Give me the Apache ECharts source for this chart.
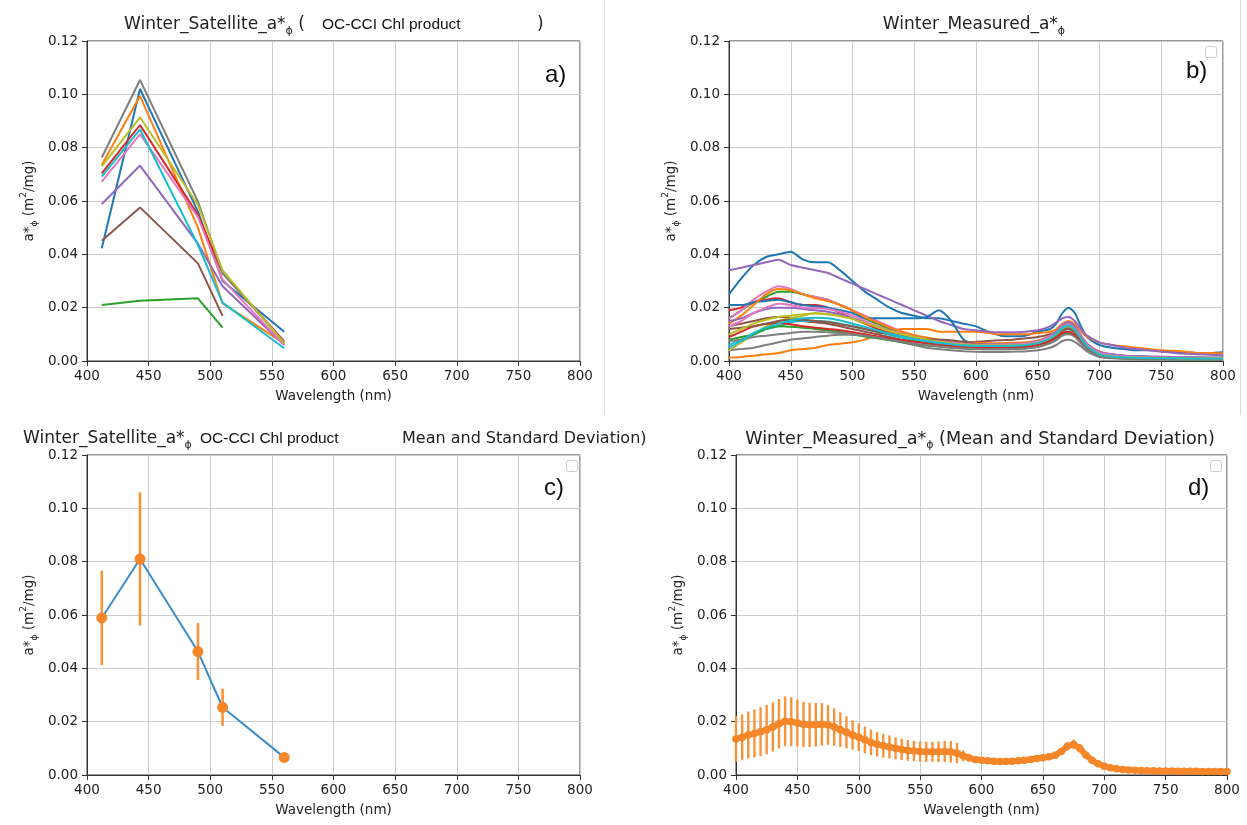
<!DOCTYPE html>
<html><head><meta charset="utf-8">
<script src="https://cdn.jsdelivr.net/npm/echarts@6/dist/echarts.min.js"></script>
<style>html,body{margin:0;padding:0;background:#fff;}#chart{width:1247px;height:825px;}</style>
</head><body><div id="chart"></div>
<script>
// ---------- Panel a: satellite a*phi spectra (OC-CCI bands) ----------
const satWavelengths = [412, 443, 490, 510, 560];
const satBlue   = [0.0423, 0.1020, 0.0560, 0.0300, 0.0110];
const satOrange = [0.0735, 0.0994, 0.0500, 0.0216, 0.0066];
const satGreen  = [0.0210, 0.0226, 0.0235, 0.0125, null];
const satRed    = [0.0704, 0.0885, 0.0548, 0.0330, 0.0073];
const satPurple = [0.0589, 0.0733, 0.0440, 0.0280, 0.0060];
const satBrown  = [0.0451, 0.0576, 0.0366, 0.0169, null];
const satPink   = [0.0673, 0.0851, 0.0540, 0.0305, 0.0060];
const satGray   = [0.0763, 0.1054, 0.0598, 0.0330, 0.0070];
const satOlive  = [0.0730, 0.0914, 0.0585, 0.0340, 0.0066];
const satCyan   = [0.0691, 0.0869, 0.0435, 0.0219, 0.0048];
const satSpectra = [satBlue, satOrange, satGreen, satRed, satPurple, satBrown, satPink, satGray, satOlive, satCyan];

// ---------- Panel b: measured a*phi spectra ----------
const measWavelengths = [400,410,420,430,440,450,460,470,480,490,500,510,520,530,540,550,560,570,580,590,600,610,620,630,640,650,660,665,670,675,680,685,690,700,710,720,730,740,750,760,770,780,790,800];
const meas01 = [.025,.031,.036,.039,.040,.041,.038,.037,.037,.034, .030,.026,.023,.020,.018,.017,.016,.016,.015,.014, .013,.011,.0095,.0093,.0095,.011,.012, .014,.018,.020,.018,.013,.009, .006,.005,.0045,.004,.004,.0037,.0035,.0033,.003,.003,.0033];
const meas02 = [.0012,.0015,.002,.0025,.003,.004,.0045,.005,.006,.0065, .007,.008,.010,.011,.012,.012,.012,.011,.011,.011, .011,.0105,.010,.010,.010,.0105,.011, .012,.014,.015,.014,.011,.009, .007,.006,.0055,.005,.0045,.004,.0038,.0035,.003,.003,.0028];
const meas03 = [.016,.019,.022,.024,.026,.026,.025,.024,.023,.021, .019,.016,.014,.012,.010,.009,.008,.007,.0065,.006, .0058,.0057,.0058,.006,.0062,.0068,.0085, .010,.0125,.0135,.012,.009,.006, .003,.0022,.0018,.0016,.0015,.0014,.0013,.0012,.0012,.0011,.0011];
const meas04 = [.019,.020,.022,.023,.0235,.022,.021,.021,.020,.018, .016,.014,.012,.0105,.009,.008,.0072,.0066,.006,.0058, .0056,.0055,.0056,.0058,.006,.0066,.0082, .0095,.0115,.0125,.011,.008,.0055, .003,.002,.0017,.0015,.0014,.0013,.0012,.0011,.0011,.001,.001];
const meas05 = [.034,.035,.036,.037,.038,.036,.035,.034,.033,.031, .029,.027,.025,.023,.021,.019,.017,.015,.0135,.012, .0115,.011,.0108,.0108,.011,.0115,.013, .0145,.016,.0165,.015,.012,.0095, .007,.006,.005,.0045,.004,.0035,.003,.0027,.0025,.0023,.0022];
const meas06 = [.013,.014,.015,.016,.0165,.016,.015,.0145,.014,.013, .012,.011,.010,.009,.008,.0075,.007,.0068,.0068,.007, .0072,.0075,.0078,.008,.0085,.009,.010, .011,.0125,.013,.012,.009,.006, .0035,.0025,.002,.0018,.0016,.0015,.0014,.0013,.0012,.0012,.0011];
const meas07 = [.016,.019,.023,.026,.028,.027,.025,.024,.023,.021, .019,.017,.015,.013,.011,.0095,.0085,.0078,.0072,.0068, .0065,.0064,.0064,.0066,.0068,.0075,.0095, .011,.0135,.0145,.013,.0095,.0065, .0035,.0025,.002,.0018,.0016,.0015,.0014,.0013,.0012,.0012,.0012];
const meas08 = [.004,.0045,.005,.006,.007,.008,.0085,.009,.0095,.0098, .0098,.0095,.009,.008,.007,.006,.005,.0045,.004,.0037, .0035,.0034,.0034,.0035,.0036,.004,.005, .006,.0075,.008,.0072,.0055,.0035, .0015,.001,.0008,.0007,.0006,.0006,.0005,.0005,.0005,.0005,.0005];
const meas09 = [.004,.007,.010,.013,.015,.016,.017,.018,.0175,.017, .016,.0145,.013,.0115,.010,.009,.008,.007,.0065,.006, .0057,.0055,.0055,.0056,.0058,.0064,.008, .0095,.012,.013,.0115,.0085,.0055, .0025,.0017,.0014,.0012,.0011,.001,.001,.0009,.0009,.0009,.0009];
const meas10 = [.006,.008,.010,.012,.013,.0145,.015,.015,.0148,.014, .013,.012,.011,.0098,.0088,.008,.0072,.0066,.006,.0056, .0054,.0053,.0053,.0054,.0056,.0062,.0078, .0092,.0112,.012,.0108,.008,.005, .0022,.0015,.0012,.0011,.001,.001,.0009,.0009,.0008,.0008,.0008];
const meas11 = [.021,.021,.022,.0225,.023,.022,.021,.0205,.020,.019, .018,.016,.016,.016,.016,.016,.0165,.019,.015,.008, .0065,.006,.006,.006,.0062,.007,.0088, .010,.012,.013,.0115,.0085,.0055, .0025,.0016,.0013,.0012,.0011,.001,.001,.001,.0009,.0009,.0009];
const meas12 = [.014,.017,.021,.025,.027,.0265,.025,.0235,.0225,.021, .019,.0165,.0145,.0125,.011,.0098,.0088,.008,.0075,.007, .0068,.0067,.0067,.0068,.007,.0076,.0092, .0108,.013,.014,.0125,.0092,.0062, .0032,.0022,.0018,.0016,.0015,.0014,.0013,.0012,.0012,.0011,.0011];
const meas13 = [.008,.009,.010,.012,.013,.0128,.0125,.012,.0115,.011, .010,.0092,.0085,.0078,.007,.0064,.0058,.0054,.005,.0047, .0045,.0044,.0044,.0045,.0047,.0053,.0068, .008,.0098,.0105,.0095,.007,.0045, .002,.0013,.001,.0009,.0008,.0008,.0007,.0007,.0007,.0007,.0007];
const meas14 = [.009,.011,.013,.014,.0142,.0138,.013,.0125,.012,.0115, .0108,.010,.0092,.0085,.0078,.0072,.0066,.006,.0056,.0052, .005,.0049,.005,.0051,.0053,.006,.0075, .0088,.0105,.011,.0098,.0072,.0047, .0022,.0015,.0012,.001,.0009,.0009,.0008,.0008,.0008,.0008,.0008];
const meas15 = [.015,.016,.018,.0195,.020,.020,.0195,.019,.0185,.0175, .016,.0145,.013,.0115,.010,.009,.008,.0074,.007,.0066, .0064,.0063,.0063,.0064,.0066,.0074,.0092, .011,.0135,.0145,.013,.0095,.0064, .0033,.0024,.002,.0018,.0017,.0016,.0015,.0014,.0014,.0013,.0013];
const meas16 = [.012,.0125,.013,.014,.015,.0155,.0155,.015,.0145,.0138, .013,.012,.011,.0102,.0095,.0088,.0082,.008,.0078,.0072, .0065,.006,.0058,.0058,.006,.0066,.0082, .0096,.0115,.012,.0108,.008,.0052, .0025,.0017,.0014,.0012,.0011,.0011,.001,.001,.001,.001,.001];
const meas17 = [.013,.015,.018,.020,.0215,.021,.020,.0198,.0195,.0185, .017,.015,.013,.0115,.0102,.009,.008,.0073,.0068,.0064, .0062,.0061,.0061,.0062,.0065,.0072,.009, .0105,.0128,.0138,.0122,.009,.006, .003,.0021,.0017,.0015,.0014,.0013,.0012,.0012,.0011,.0011,.0011];
const meas18 = [.0075,.008,.009,.0095,.010,.0105,.011,.011,.0108,.0105, .010,.0095,.0088,.008,.0072,.0065,.006,.0055,.005,.0047, .0045,.0044,.0044,.0045,.0047,.0052,.0066, .0078,.0095,.010,.009,.0066,.0042, .0018,.0012,.001,.0009,.0008,.0008,.0007,.0007,.0007,.0007,.0007];
const meas19 = [.010,.012,.014,.0155,.0165,.017,.0175,.0178,.0175,.0168, .0158,.0142,.0128,.0113,.010,.009,.008,.0072,.0066,.0062, .0059,.0058,.0058,.0059,.0061,.0068,.0085, .010,.0122,.013,.0116,.0085,.0055, .0026,.0018,.0015,.0013,.0012,.0011,.0011,.001,.001,.001,.001];
const meas20 = [.005,.0075,.0105,.0125,.014,.0152,.016,.0162,.016,.0152, .014,.0128,.0115,.0102,.0092,.0083,.0075,.0068,.0063,.0059, .0057,.0056,.0056,.0057,.006,.0067,.0085, .0102,.0125,.0133,.0118,.0086,.0055, .0025,.0017,.0014,.0012,.0011,.001,.001,.001,.0009,.0009,.0009];
const measSpectra = [meas01,meas02,meas03,meas04,meas05,meas06,meas07,meas08,meas09,meas10,meas11,meas12,meas13,meas14,meas15,meas16,meas17,meas18,meas19,meas20];

// ---------- Panel c: satellite mean and std ----------
const satMean = [0.0589, 0.0810, 0.0463, 0.0254, 0.0066];
const satStd  = [0.0177, 0.0250, 0.0107, 0.0070, 0.0004];

// ---------- Panel d: measured mean and std ----------
const measMeanWl = [400,405,410,415,420,425,430,435,440,445,450,455,460,465,470,475,480,485,490,495,500,505,510,515,520,525,530,535,540,545,550,555,560,565,570,575,580,585,590,595,600,605,610,615,620,625,630,635,640,645,650,655,660,665,670,675,680,685,690,695,700,705,710,715,720,725,730,735,740,745,750,755,760,765,770,775,780,785,790,795,800];
const measMean = [.0135,.0142,.0150,.0156,.0162,.0170,.0180,.0192,.0202,.0200,
  .0195,.0190,.0188,.0188,.0190,.0188,.0180,.0170,.0160,.0150,
  .0142,.0132,.0122,.0115,.0110,.0105,.0100,.0096,.0092,.0090,
  .0088,.0087,.0087,.0087,.0088,.0087,.0082,.0072,.0064,.0058,
  .0055,.0053,.0052,.0051,.0051,.0052,.0053,.0055,.0058,.0062,
  .0065,.0068,.0074,.0088,.0108,.0115,.0100,.0075,.0055,.0042,
  .0033,.0027,.0023,.0021,.0019,.0018,.0017,.0016,.0016,.0015,
  .0015,.0015,.0014,.0014,.0014,.0014,.0013,.0013,.0013,.0013,.0013];
const measStd = [.0085,.0085,.0088,.0090,.0092,.0092,.0092,.0093,.0093,.0092,
  .0088,.0085,.0083,.0082,.0080,.0075,.0070,.0065,.0060,.0055,
  .0052,.0050,.0048,.0046,.0045,.0043,.0041,.0040,.0039,.0038,
  .0038,.0038,.0038,.0039,.0040,.0040,.0038,.0020,.0012,.0010,
  .0008,.0008,.0007,.0007,.0007,.0007,.0007,.0008,.0008,.0009,
  .0009,.0010,.0011,.0013,.0016,.0018,.0016,.0012,.0009,.0007,
  .0006,.0005,.0005,.0004,.0004,.0004,.0004,.0004,.0004,.0004,
  .0004,.0004,.0004,.0004,.0004,.0004,.0004,.0004,.0004,.0004,.0004];

// ---------- styling ----------
const palette = ['#1f77b4','#ff7f0e','#2ca02c','#d62728','#9467bd','#8c564b','#e377c2','#7f7f7f','#bcbd22','#17becf'];
const FONT = 'DejaVu Sans';
const NOTE_FONT = 'Liberation Sans';
const chart = echarts.init(document.getElementById('chart'));

const grids = [
  {left: 87, top: 41, width: 493, height: 320},
  {left: 729, top: 41, width: 494, height: 320},
  {left: 87, top: 455, width: 493, height: 320},
  {left: 736, top: 455, width: 491, height: 320}
].map(g => Object.assign(g, {show: true, borderColor: '#333', borderWidth: 1, backgroundColor: 'transparent'}));

function mkX(gi) {
  return {
    gridIndex: gi, type: 'value', min: 400, max: 800, interval: 50,
    axisLine: {show: true, lineStyle: {color: '#333'}},
    axisTick: {show: true, length: 5, lineStyle: {color: '#333'}},
    axisLabel: {fontSize: 13.5, color: '#222', fontFamily: FONT, margin: 8, showMinLabel: true, showMaxLabel: true},
    splitLine: {show: true, lineStyle: {color: '#cccccc', width: 1}},
    name: 'Wavelength (nm)', nameLocation: 'middle', nameGap: 28,
    nameTextStyle: {fontSize: 13.5, color: '#222', fontFamily: FONT}
  };
}
function mkY(gi) {
  return {
    gridIndex: gi, type: 'value', min: 0, max: 0.12, interval: 0.02,
    axisLine: {show: true, lineStyle: {color: '#333'}},
    axisTick: {show: true, length: 5, lineStyle: {color: '#333'}},
    axisLabel: {fontSize: 13.5, color: '#222', fontFamily: FONT, margin: 9, showMinLabel: true, showMaxLabel: true,
      formatter: v => v.toFixed(2)},
    splitLine: {show: true, lineStyle: {color: '#cccccc', width: 1}},
    name: '{t|a*}{s|ϕ}{t| (m}{p|2}{t|/mg)}', nameLocation: 'middle', nameGap: 48, nameRotate: 90,
    nameTextStyle: {fontSize: 13.5, color: '#222', fontFamily: FONT,
      rich: {
        t: {fontSize: 13.5, lineHeight: 20, color: '#222', fontFamily: FONT},
        s: {fontSize: 9, lineHeight: 12, verticalAlign: 'bottom', color: '#222', fontFamily: FONT},
        p: {fontSize: 9, lineHeight: 12, verticalAlign: 'top', color: '#222', fontFamily: FONT}
      }}
  };
}

function mkRich(size) {
  return {
    t: {fontSize: size, lineHeight: 24, color: '#222', fontFamily: FONT},
    s: {fontSize: 11, lineHeight: 14, verticalAlign: 'bottom', color: '#222', fontFamily: FONT}
  };
}
function mkTitle(text, left, top, align, size) {
  const fs = size || 17;
  return {text: text, left: left, top: top, padding: 0, textAlign: align || 'left',
    textStyle: {fontSize: fs, lineHeight: 24, color: '#222', fontFamily: FONT, fontWeight: 'normal', rich: mkRich(fs)}};
}
function mkNote(text, left, top) {
  return {text: text, left: left, top: top, padding: 0,
    textStyle: {fontSize: 15.5, lineHeight: 24, color: '#111', fontFamily: NOTE_FONT, fontWeight: 'normal'}};
}
function mkLetter(text, left, top) {
  return {text: text, left: left, top: top, padding: 0,
    textStyle: {fontSize: 24, lineHeight: 28, color: '#111', fontFamily: NOTE_FONT, fontWeight: 'normal'}};
}

const titles = [
  mkTitle('{t|Winter_Satellite_a*}{s|ϕ}{t| (}', 124, 13),
  mkNote('OC-CCI Chl product', 322, 13),
  mkTitle('{t|)}', 537, 13),
  mkTitle('{t|Winter_Measured_a*}{s|ϕ}', 974, 13, 'center'),
  mkTitle('{t|Winter_Satellite_a*}{s|ϕ}', 23, 427),
  mkNote('OC-CCI Chl product', 200, 427),
  mkTitle('{t|Mean and Standard Deviation)}', 402, 427, 'left', 16),
  mkTitle('{t|Winter_Measured_a*}{s|ϕ}{t| (Mean and Standard Deviation)}', 980, 427, 'center', 17.6),
  mkLetter('a)', 545, 61),
  mkLetter('b)', 1186, 57),
  mkLetter('c)', 544, 474),
  mkLetter('d)', 1188, 474)
];

function errorBarSeries(xi, wl, mean, std, width, z) {
  return {
    type: 'custom', xAxisIndex: xi, yAxisIndex: xi, z: z,
    data: wl.map((w, i) => [w, mean[i] - std[i], mean[i] + std[i]]),
    encode: {x: 0, y: [1, 2]},
    renderItem: function (params, api) {
      const p1 = api.coord([api.value(0), api.value(1)]);
      const p2 = api.coord([api.value(0), api.value(2)]);
      return {type: 'line', shape: {x1: p1[0], y1: p1[1], x2: p2[0], y2: p2[1]},
        style: {stroke: '#f7943a', lineWidth: width}};
    }
  };
}

const series = [];
satSpectra.forEach((arr, i) => {
  series.push({
    type: 'line', xAxisIndex: 0, yAxisIndex: 0, showSymbol: false, symbol: 'none',
    data: satWavelengths.map((w, j) => [w, arr[j]]).filter(p => p[1] !== null),
    lineStyle: {width: 2, color: palette[i % 10]}, itemStyle: {color: palette[i % 10]}
  });
});
measSpectra.forEach((arr, i) => {
  series.push({
    type: 'line', xAxisIndex: 1, yAxisIndex: 1, showSymbol: false, symbol: 'none', smooth: 0.25,
    data: measWavelengths.map((w, j) => [w, arr[j]]),
    lineStyle: {width: 2, color: palette[i % 10]}, itemStyle: {color: palette[i % 10]}
  });
});
series.push({
  type: 'line', xAxisIndex: 2, yAxisIndex: 2, showSymbol: false, symbol: 'none', z: 2,
  data: satWavelengths.map((w, j) => [w, satMean[j]]),
  lineStyle: {width: 2, color: '#3a8dc8'}
});
series.push(errorBarSeries(2, satWavelengths, satMean, satStd, 2.6, 3));
series.push({
  type: 'scatter', xAxisIndex: 2, yAxisIndex: 2, symbol: 'circle', symbolSize: 11, z: 4,
  data: satWavelengths.map((w, j) => [w, satMean[j]]),
  itemStyle: {color: '#f5862a', opacity: 1}
});
series.push(errorBarSeries(3, measMeanWl, measMean, measStd, 2.4, 3));
series.push({
  type: 'line', xAxisIndex: 3, yAxisIndex: 3, showSymbol: false, symbol: 'none', z: 4,
  data: measMeanWl.map((w, j) => [w, measMean[j]]),
  lineStyle: {width: 6, color: '#f5862a', cap: 'round', join: 'round'}
});
series.push({
  type: 'scatter', xAxisIndex: 3, yAxisIndex: 3, symbol: 'circle', symbolSize: 7.5, z: 5,
  data: measMeanWl.map((w, j) => [w, measMean[j]]),
  itemStyle: {color: '#f5862a', opacity: 1}
});

const graphics = [
  {type: 'line', shape: {x1: 604.5, y1: 0, x2: 604.5, y2: 415}, style: {stroke: '#dddddd', lineWidth: 1}},
  {type: 'line', shape: {x1: 1240.5, y1: 0, x2: 1240.5, y2: 415}, style: {stroke: '#dddddd', lineWidth: 1}},
  {type: 'rect', shape: {x: 1205.5, y: 46.5, width: 11, height: 11, r: 2}, style: {fill: '#fff', stroke: '#cccccc', lineWidth: 1}, z: 100},
  {type: 'rect', shape: {x: 566.5, y: 460.5, width: 11, height: 11, r: 2}, style: {fill: '#fff', stroke: '#cccccc', lineWidth: 1}, z: 100},
  {type: 'rect', shape: {x: 1210.5, y: 460.5, width: 11, height: 11, r: 2}, style: {fill: '#fff', stroke: '#cccccc', lineWidth: 1}, z: 100}
];

chart.setOption({
  animation: false,
  backgroundColor: '#ffffff',
  title: titles,
  grid: grids,
  xAxis: [mkX(0), mkX(1), mkX(2), mkX(3)],
  yAxis: [mkY(0), mkY(1), mkY(2), mkY(3)],
  series: series,
  graphic: graphics
});
</script>
</body></html>
